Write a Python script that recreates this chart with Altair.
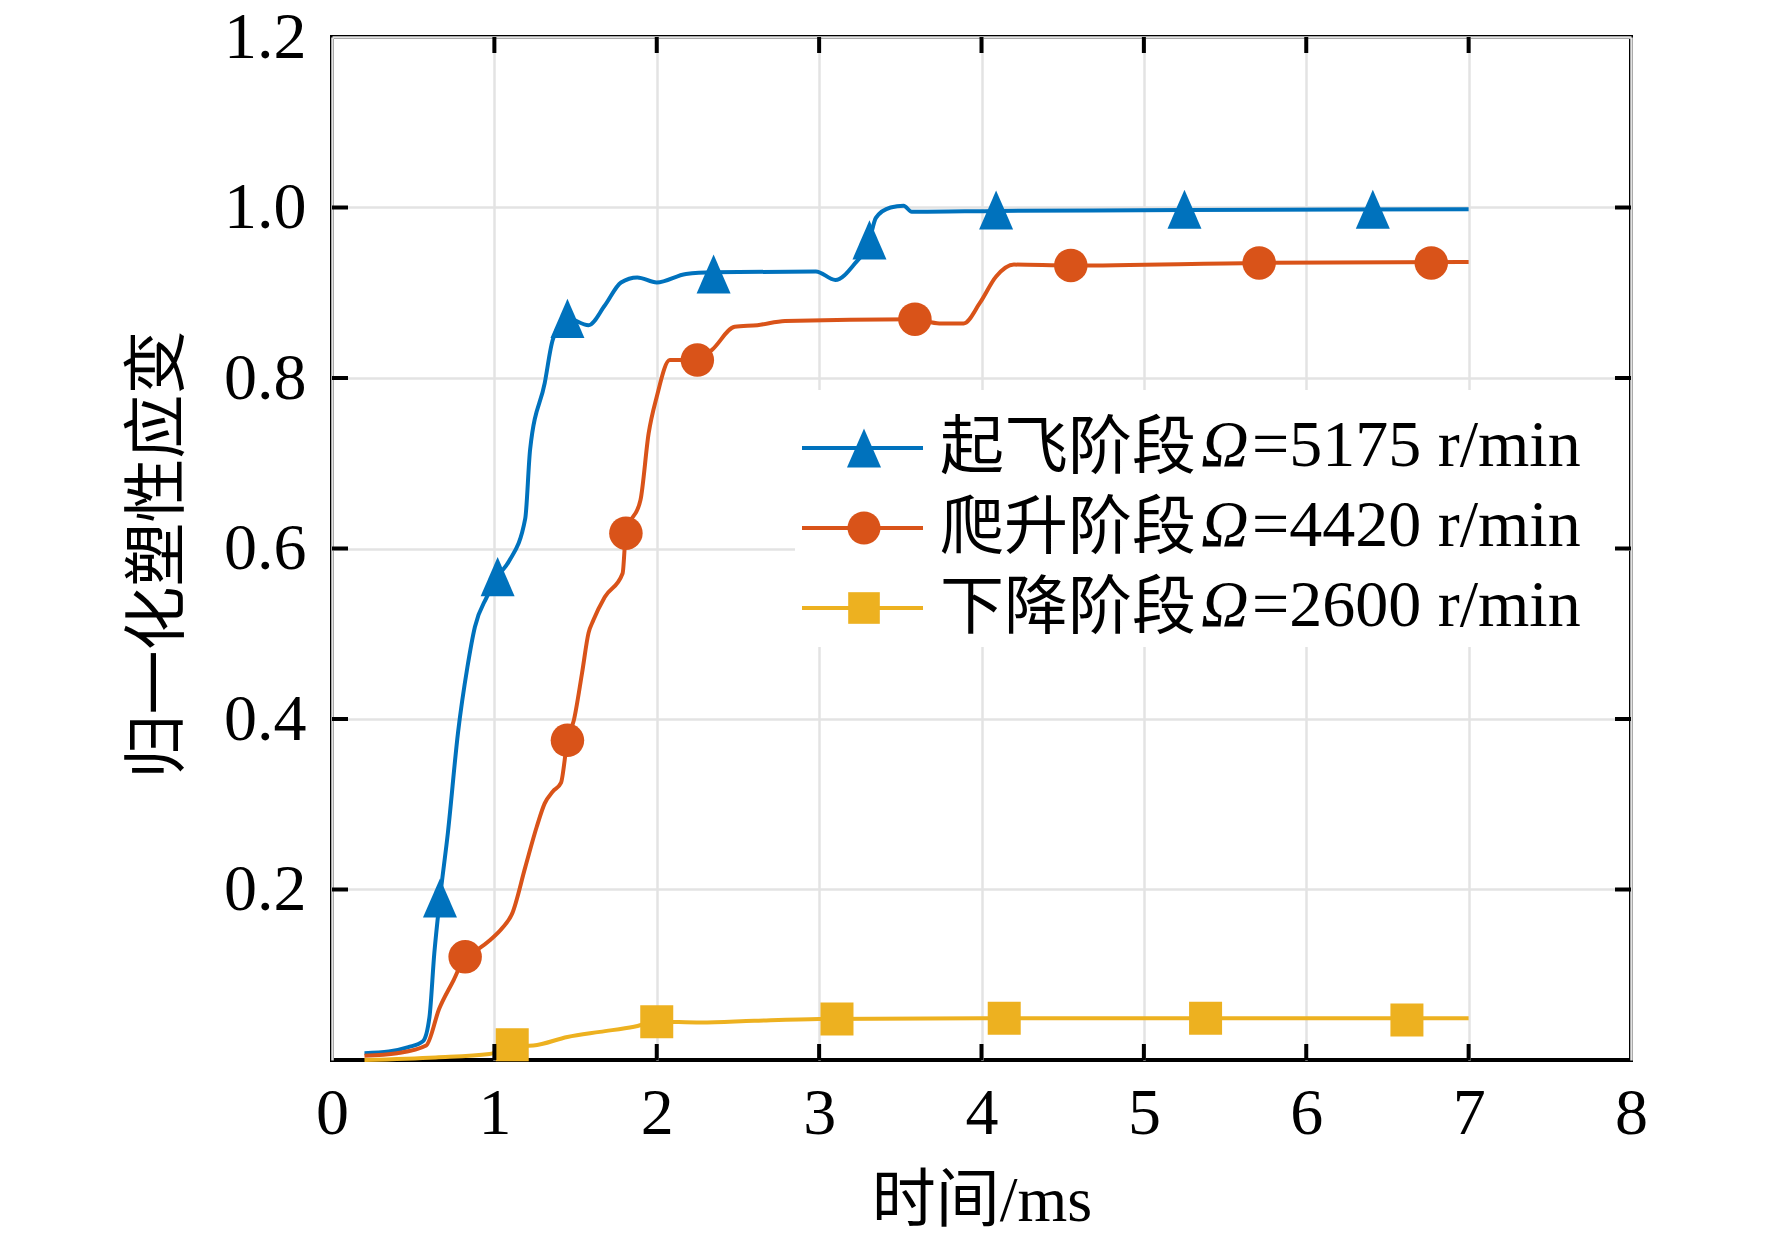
import altair as alt
import pandas as pd

# series names and legend text
series = ['起飞阶段', '爬升阶段', '下降阶段']
speeds = ['=5175 r/min', '=4420 r/min', '=2600 r/min']
colors = ['#0072BD', '#D95319', '#EDB120']

# 起飞阶段 (blue)
blue_t = [0.2, 0.35, 0.47, 0.56, 0.6, 0.63, 0.665, 0.714, 0.776, 0.834, 0.88, 0.953, 1.02, 1.09, 1.19,
          1.22, 1.31, 1.36, 1.45, 1.58, 1.68, 1.78, 1.88, 2.0, 2.18, 2.35, 2.98, 3.1, 3.21, 3.31, 3.35,
          3.44, 3.52, 3.57, 4.1, 5.25, 7.0]
blue_v = [0.008, 0.01, 0.015, 0.022, 0.05, 0.125, 0.19, 0.267, 0.384, 0.461, 0.508, 0.543, 0.567, 0.585,
          0.635, 0.716, 0.794, 0.845, 0.87, 0.862, 0.885, 0.912, 0.918, 0.912, 0.922, 0.924, 0.925, 0.915,
          0.932, 0.962, 0.988, 1.0, 1.002, 0.995, 0.996, 0.997, 0.998]
blue_mt = [0.665, 1.02, 1.45, 2.35, 3.31, 4.09, 5.25, 6.41]
blue_mv = [0.19, 0.567, 0.87, 0.922, 0.962, 0.997, 0.998, 0.998]

# 爬升阶段 (red)
red_t = [0.2, 0.4, 0.58, 0.66, 0.75, 0.82, 0.9, 0.976, 1.05, 1.11, 1.19, 1.26, 1.31, 1.36, 1.41, 1.45,
         1.49, 1.54, 1.58, 1.61, 1.68, 1.79, 1.81, 1.9, 1.95, 2.0, 2.08, 2.25, 2.34, 2.48, 2.62, 2.79,
         3.59, 3.74, 3.89, 3.99, 4.09, 4.2, 4.55, 5.71, 7.0]
red_v = [0.005, 0.008, 0.017, 0.06, 0.094, 0.121, 0.13, 0.141, 0.155, 0.172, 0.226, 0.273, 0.301, 0.315,
         0.325, 0.375, 0.399, 0.454, 0.501, 0.516, 0.543, 0.571, 0.618, 0.657, 0.735, 0.778, 0.821, 0.821,
         0.833, 0.86, 0.862, 0.867, 0.869, 0.864, 0.864, 0.888, 0.919, 0.933, 0.932, 0.935, 0.936]
red_mt = [0.82, 1.45, 1.81, 2.25, 3.59, 4.55, 5.71, 6.77]
red_mv = [0.121, 0.375, 0.618, 0.821, 0.869, 0.932, 0.935, 0.935]

# 下降阶段 (yellow)
yellow_t = [0.2, 0.64, 0.97, 1.11, 1.24, 1.45, 1.65, 1.86, 2.0, 2.27, 2.6, 3.0, 4.0, 5.0, 7.0]
yellow_v = [0.0, 0.003, 0.007, 0.016, 0.017, 0.027, 0.033, 0.039, 0.045, 0.044, 0.046, 0.048, 0.049,
            0.049, 0.049]
yellow_mt = [1.11, 2.0, 3.11, 4.14, 5.38, 6.62]
yellow_mv = [0.018, 0.045, 0.048, 0.049, 0.049, 0.047]

x_ticks = [0, 1, 2, 3, 4, 5, 6, 7, 8]
y_ticks = [0.2, 0.4, 0.6, 0.8, 1.0, 1.2]

W, H = 1299, 1023
SERIF = 'Liberation Serif, Times New Roman, Noto Sans CJK SC'
TRI = 'M0,-1.15L1,1.15L-1,1.15Z'
shapes = [TRI, 'circle', 'square']
sizes = [1156, 1089, 1000]

lines = pd.concat([
    pd.DataFrame({'x': t, 'y': v, 's': name})
    for t, v, name in [(blue_t, blue_v, series[0]), (red_t, red_v, series[1]), (yellow_t, yellow_v, series[2])]
])
marks = pd.concat([
    pd.DataFrame({'x': t, 'y': v, 's': name})
    for t, v, name in [(blue_mt, blue_mv, series[0]), (red_mt, red_mv, series[1]), (yellow_mt, yellow_mv, series[2])]
])

xscale = alt.Scale(domain=[0, 8], nice=False, zero=False)
yscale = alt.Scale(domain=[0, 1.2], nice=False)
xaxis = alt.Axis(values=x_ticks, format='d', ticks=False, domain=False, grid=True,
                 labelFlush=False, labelOverlap=False,
                 labelPadding=21, title='时间/ms', titleY=160, titleBaseline='alphabetic')
yaxis = alt.Axis(values=y_ticks, format='.1f', ticks=False, domain=False, grid=True,
                 labelFlush=False, labelOverlap=False,
                 labelPadding=26, title='归一化塑性应变', titleAngle=270, titleX=-174, titleY=517,
                 titleBaseline='middle')
X = alt.X('x:Q', scale=xscale, axis=xaxis)
Y = alt.Y('y:Q', scale=yscale, axis=yaxis)
color = alt.Color('s:N', scale=alt.Scale(domain=series, range=colors), legend=None)

line_layer = alt.Chart(lines).mark_line(strokeWidth=4, interpolate='monotone').encode(
    x=X, y=Y, color=color, detail='s:N'
)
point_layer = alt.Chart(marks).mark_point(filled=True, opacity=1).encode(
    x=X, y=Y, color=color,
    shape=alt.Shape('s:N', scale=alt.Scale(domain=series, range=shapes), legend=None),
    size=alt.Size('s:N', scale=alt.Scale(domain=series, range=sizes), legend=None),
)

# legend box and entries
one = pd.DataFrame({'k': [0]})
legend_bg = alt.Chart(one).mark_rect(fill='white').encode(
    x=alt.value(463), x2=alt.value(1293), y=alt.value(353), y2=alt.value(610)
)
legend_layers = [legend_bg]
for i, name in enumerate(series):
    ly = 411 + 80 * i
    legend_layers.append(alt.Chart(one).mark_rule(color=colors[i], strokeWidth=4).encode(
        x=alt.value(470), x2=alt.value(591), y=alt.value(ly)))
    legend_layers.append(alt.Chart(one).mark_point(filled=True, opacity=1, color=colors[i],
                                                   shape=shapes[i], size=sizes[i]).encode(
        x=alt.value(532), y=alt.value(ly)))
    legend_layers.append(alt.Chart(one).mark_text(align='left', baseline='alphabetic', fontSize=64,
                                                  font='Noto Sans CJK SC', color='black').encode(
        x=alt.value(608), y=alt.value(ly + 20), text=alt.value(name)))
    legend_layers.append(alt.Chart(one).mark_text(align='left', baseline='alphabetic', fontSize=66,
                                                  font=SERIF, fontStyle='italic', color='black').encode(
        x=alt.value(869), y=alt.value(ly + 18), text=alt.value('Ω')))
    legend_layers.append(alt.Chart(one).mark_text(align='left', baseline='alphabetic', fontSize=66,
                                                  font=SERIF, color='black').encode(
        x=alt.value(920), y=alt.value(ly + 18), text=alt.value(speeds[i])))

# inward ticks on all four sides
yt = pd.DataFrame({'y': y_ticks[:-1]})
xt = pd.DataFrame({'x': x_ticks[1:-1]})
tick_layers = [
    alt.Chart(yt).mark_rule(color='black', strokeWidth=4).encode(y=Y, x=alt.value(0), x2=alt.value(16)),
    alt.Chart(yt).mark_rule(color='black', strokeWidth=4).encode(y=Y, x=alt.value(W - 16), x2=alt.value(W)),
    alt.Chart(xt).mark_rule(color='black', strokeWidth=4).encode(x=X, y=alt.value(H - 16), y2=alt.value(H)),
    alt.Chart(xt).mark_rule(color='black', strokeWidth=4).encode(x=X, y=alt.value(0), y2=alt.value(16)),
]

chart = alt.layer(line_layer, point_layer, *legend_layers, *tick_layers).properties(
    width=W, height=H,
    autosize=alt.AutoSizeParams(type='none'),
    padding={'left': 324, 'top': 29, 'right': 133, 'bottom': 174},
).configure_view(
    stroke='black', strokeWidth=4
).configure_axis(
    labelFont=SERIF, labelFontSize=66, labelColor='black',
    titleFont=SERIF, titleFontSize=64, titleFontWeight='normal', titleColor='black',
    gridColor='#e3e3e3', gridWidth=2.5
)

chart.save('out.html', embed_options={'renderer': 'svg', 'actions': False})
